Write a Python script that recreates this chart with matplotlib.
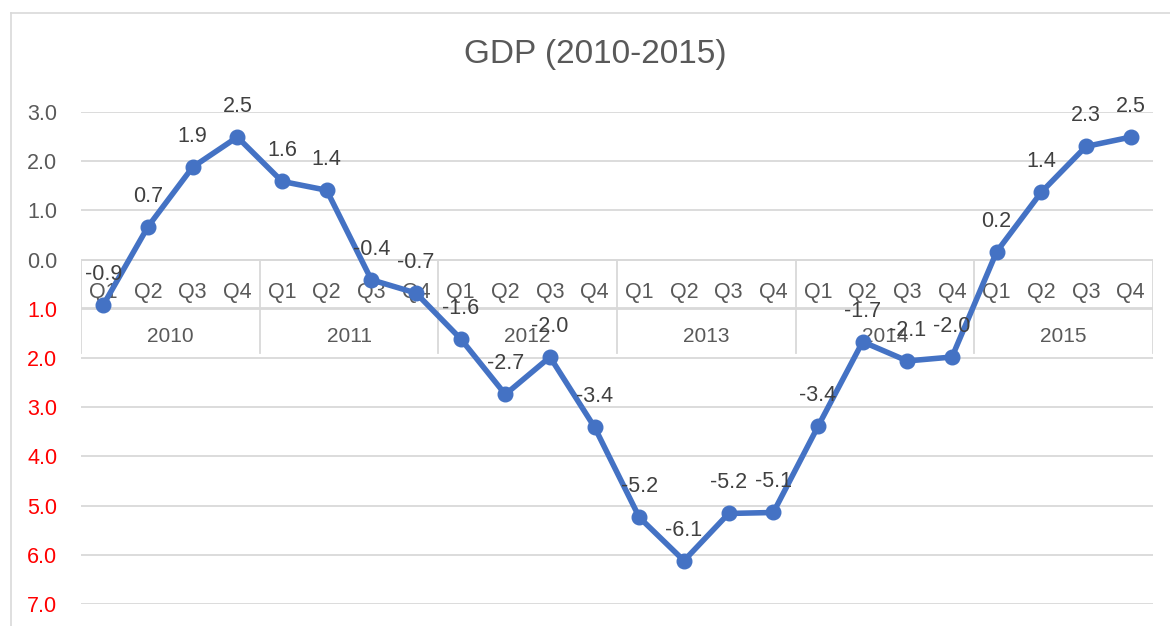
import numpy as np
import matplotlib
matplotlib.use("Agg")
import matplotlib.pyplot as plt
from matplotlib.lines import Line2D
from matplotlib.ticker import FixedLocator, FixedFormatter

# data
years    = ["2010", "2011", "2012", "2013", "2014", "2015"]
quarters = ["Q1", "Q2", "Q3", "Q4"]
gdp = [-0.92, 0.67, 1.88, 2.49, 1.59, 1.41, -0.41, -0.68,
       -1.61, -2.74, -1.98, -3.41, -5.24, -6.12, -5.16, -5.14,
       -3.39, -1.67, -2.06, -1.98, 0.16, 1.37, 2.30, 2.49]
yticks = [3, 2, 1, 0, -1, -2, -3, -4, -5, -6, -7]
title = "GDP (2010-2015)"

W, H = 1170, 626
blue  = "#4472C4"
grey  = "#595959"
dark  = "#404040"
lineg = "#d9d9d9"

plt.rcParams["font.family"] = ["Liberation Sans", "DejaVu Sans"]

fig = plt.figure(figsize=(W / 100, H / 100), dpi=100)
fig.patch.set_facecolor("white")

# chart border (top + left visible)
fig.add_artist(Line2D([11 / W, 1.0], [1 - 13 / H, 1 - 13 / H], color=lineg, lw=1.2))
fig.add_artist(Line2D([11 / W, 11 / W], [0, 1 - 13 / H], color=lineg, lw=1.2))

left, right = 81, 1153
top, bottom = 112, 604
ax = fig.add_axes([left / W, (H - bottom) / H, (right - left) / W, (bottom - top) / H])
ax.set_xlim(-0.5, len(gdp) - 0.5)
ax.set_ylim(-7, 3)
for sp in ax.spines.values():
    sp.set_visible(False)

ax.yaxis.set_major_locator(FixedLocator(yticks))
ax.yaxis.set_major_formatter(FixedFormatter([f"{abs(v):.1f}" for v in yticks]))
ax.tick_params(axis="y", length=0, pad=17, labelsize=15.5, labelcolor=grey)
for lbl, v in zip(ax.get_yticklabels(), yticks):
    lbl.set_color("red" if v < 0 else grey)
ax.set_xticks([])
ax.yaxis.grid(True, color=lineg, lw=1.3)
ax.set_axisbelow(True)

# multi-level category axis at y = 0
n = len(gdp)
ax.plot([-0.5, n - 0.5], [0, 0], color=lineg, lw=1.3, zorder=1)
ax.plot([-0.5, n - 0.5], [-0.99, -0.99], color=lineg, lw=1.3, zorder=1)
for k in range(len(years) + 1):
    xb = k * 4 - 0.5
    ax.plot([xb, xb], [0, -1.9], color=lineg, lw=1.3, zorder=1)
for i in range(n):
    ax.text(i, -0.67, quarters[i % 4], ha="center", va="center",
            fontsize=15.5, color=grey, zorder=2)
for k, yr in enumerate(years):
    ax.text(k * 4 + 1.5, -1.57, yr, ha="center", va="center",
            fontsize=15, color=grey, zorder=2)

# series
x = np.arange(n)
ax.plot(x, gdp, "-o", color=blue, lw=4, ms=10.5, zorder=4)
for xi, v in zip(x, gdp):
    ax.annotate(f"{v:.1f}", (xi, v), xytext=(0, 22), textcoords="offset points",
                ha="center", va="center", fontsize=15.5, color=dark, zorder=5)

fig.text(595 / W, 1 - 55 / H, title, ha="center", va="center", fontsize=24, color=grey)

fig.savefig("out.png", dpi=100, facecolor="white")
